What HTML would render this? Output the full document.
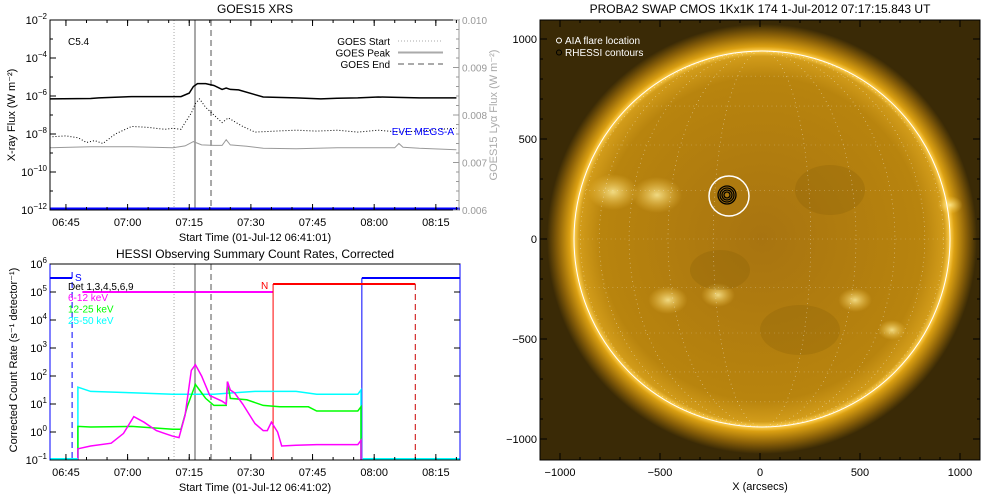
<!DOCTYPE html>
<html><head><meta charset="utf-8">
<style>
html,body{margin:0;padding:0;background:#fff;}
svg{display:block;font-family:"Liberation Sans",sans-serif;}
</style></head>
<body>
<svg id="c" width="1000" height="500" viewBox="0 0 1000 500">
<defs>
<radialGradient id="sunG" cx="762" cy="239" r="215" gradientUnits="userSpaceOnUse">
<stop offset="0" stop-color="#a87410"/>
<stop offset="0.75" stop-color="#b8840e"/>
<stop offset="0.85" stop-color="#d29c1a"/>
<stop offset="0.875" stop-color="#ffd050"/>
<stop offset="0.895" stop-color="#dba012"/>
<stop offset="0.95" stop-color="#8a6008"/>
<stop offset="1" stop-color="#3a2a06"/>
</radialGradient>
<radialGradient id="brt" cx="0.5" cy="0.5" r="0.5">
<stop offset="0" stop-color="#fff0a0" stop-opacity="0.8"/>
<stop offset="1" stop-color="#ffd050" stop-opacity="0"/>
</radialGradient>
<clipPath id="clipTop"><rect x="50" y="20" width="410" height="190"/></clipPath>
<clipPath id="clipBot"><rect x="50" y="264" width="410" height="196"/></clipPath>
<clipPath id="clipImg"><rect x="540" y="20" width="440" height="440"/></clipPath>
</defs>
<g id="topPanel"></g>
<g id="botPanel"></g>
<g id="imgPanel"></g>
</svg>
<script>
const goesLongT = [0,10,12,20,32,34,35,36,38,40,42,43,44,46,52,60,66,70,75,80,90,99];
const goesLongV = [-6.15,-6.13,-6.1,-6.03,-6.03,-5.85,-5.5,-5.35,-5.35,-5.45,-5.65,-5.58,-5.65,-5.68,-6.05,-6.1,-6.15,-6.12,-6.1,-6.05,-6.1,-6.1];
const goesShortT = [0,4,7,9,11,13,16,20,24,28,30,32,33,34.5,35.5,36.5,38,40,42,43.5,45,47,50,55,60,65,70,75,80,85,90,95,99];
const goesShortV = [-8.15,-8.1,-8.2,-8.45,-8.35,-8.5,-8.0,-7.6,-7.65,-7.75,-7.7,-7.75,-7.4,-6.9,-6.4,-6.15,-6.6,-7.0,-7.4,-7.15,-7.35,-7.6,-7.9,-7.85,-7.8,-7.85,-7.8,-7.9,-7.8,-7.9,-7.85,-7.75,-7.7];
const lyaT = [0,10,20,30,33,35,37,40,42,43,44,48,52,60,70,80,84,85,86,90,99];
const lyaV = [0.00731,0.00733,0.00733,0.00731,0.00735,0.00744,0.00737,0.00736,0.00736,0.00748,0.00737,0.00734,0.00730,0.00729,0.00731,0.00731,0.00731,0.00740,0.00732,0.00730,0.00727];
const xTicks = ['06:45','07:00','07:15','07:30','07:45','08:00','08:15'];
const xTickMin = [4,19,34,49,64,79,94];
const topYTicks = [-2,-4,-6,-8,-10,-12];
const lyaTicks = ['0.010','0.009','0.008','0.007','0.006'];
const goesEvents = [30.3,35.4,39.3];
const cyanT = [6.9,10,20,30,40,45,50,55,60,65,70,75,75.8];
const cyanV = [1.6,1.45,1.4,1.35,1.35,1.4,1.45,1.45,1.45,1.35,1.35,1.35,1.5];
const magT = [6.9,10,15,18,20.5,23,26,28,30,31.5,33,34.5,35.5,37,39,42,43,43.3,44,45,47,50,52,53,54,55.5,56.5,60,65,70,75,75.8];
const magV = [-0.6,-0.5,-0.4,-0.05,0.55,0.35,0.05,-0.05,-0.15,-0.2,0.6,2.2,2.4,2.0,1.3,1.1,1.0,1.8,1.5,1.4,1.0,0.3,0.05,0.05,0.35,0.0,-0.5,-0.47,-0.45,-0.45,-0.45,-0.3];
const grnT = [6.9,10,20,30,32,33.5,35.5,36.5,38,40,42,43,43.3,44,48,52,56,63,65,75,75.8];
const grnV = [0.2,0.18,0.2,0.1,0.1,0.9,1.7,1.5,1.2,0.95,0.95,0.95,1.8,1.2,1.15,0.95,0.9,0.9,0.75,0.75,0.9];
const botYTicks = [6,5,4,3,2,1,0,-1];
const attenT = [8,54.4,89];
const saaT = [5.5,76];

const NS='http://www.w3.org/2000/svg';
function el(parent,tag,attrs,text){const e=document.createElementNS(NS,tag);for(const k in attrs)e.setAttribute(k,attrs[k]);if(text!==undefined)e.textContent=text;parent.appendChild(e);return e;}
const xT = m => 49.5 + m*4.11;
const yTop = v => 20 + (-2 - v)*19;
const yLya = v => 210 - (v-0.006)/0.004*190;
const yBot = v => 264 + (6 - v)*28;
function pts(ts,vs,fy){return ts.map((t,i)=>xT(t).toFixed(1)+','+fy(vs[i]).toFixed(1)).join(' ');}
function expLabel(g,x,y,exp,anchor,fill){
  const t=el(g,'text',{x:x,y:y,'font-size':11,'text-anchor':anchor||'end',fill:fill||'#000'});
  t.appendChild(document.createTextNode('10'));
  const s=document.createElementNS(NS,'tspan');s.setAttribute('dy','-5');s.setAttribute('font-size','8');s.textContent=String(exp).replace('-','−');t.appendChild(s);
  return t;
}
const topG=document.getElementById('topPanel');
el(topG,'text',{x:255,y:13,'font-size':12,'text-anchor':'middle'},'GOES15 XRS');
const gTop=el(topG,'g',{'clip-path':'url(#clipTop)'});
const evStyles=[{'stroke-dasharray':'1,2','stroke-width':1},{'stroke-width':2},{'stroke-dasharray':'6,4','stroke-width':2}];
goesEvents.forEach((t,i)=>{const l=el(gTop,'line',Object.assign({x1:xT(t),x2:xT(t),y1:20,y2:210,stroke:'#a8a8a8'},evStyles[i]));

});
const lyaLine=el(gTop,'polyline',{points:pts(lyaT,lyaV,yLya),fill:'none',stroke:'#999','stroke-width':1});


const sLine=el(gTop,'polyline',{points:pts(goesShortT,goesShortV,yTop),fill:'none',stroke:'#000','stroke-width':1,'stroke-dasharray':'1,2'});


const lLine=el(gTop,'polyline',{points:pts(goesLongT,goesLongV,yTop),fill:'none',stroke:'#000','stroke-width':1.5});


el(gTop,'line',{x1:50,x2:460,y1:209,y2:209,stroke:'#0000ff','stroke-width':3});
el(topG,'rect',{x:50,y:20,width:409,height:190,fill:'none',stroke:'#000'});
el(topG,'line',{x1:459,x2:459,y1:20,y2:210,stroke:'#999'});
for(let v=-2;v>=-12;v--){const y=yTop(v);const len=(v%2===0)?6:3;el(topG,'line',{x1:50,x2:50+len,y1:y,y2:y,stroke:'#000'});}
topYTicks.forEach(v=>{const t=expLabel(topG,47,yTop(v)+4,v);
});
lyaTicks.forEach((s,i)=>{const y=20+i*47.5;el(topG,'line',{x1:453,x2:459,y1:y,y2:y,stroke:'#999'});
const t=el(topG,'text',{x:462,y:y+4,'font-size':10,fill:'#999'},s);
});
for(let i=0;i<20;i++){const y=20+i*9.5;el(topG,'line',{x1:456,x2:459,y1:y,y2:y,stroke:'#999'});}
xTickMin.forEach((m,i)=>{const x=xT(m);el(topG,'line',{x1:x,x2:x,y1:210,y2:204,stroke:'#000'});el(topG,'line',{x1:x,x2:x,y1:20,y2:26,stroke:'#000'});
const t=el(topG,'text',{x:x,y:226,'font-size':11,'text-anchor':'middle'},xTicks[i]);
});
for(let m=4;m<100;m+=5){const x=xT(m);el(topG,'line',{x1:x,x2:x,y1:210,y2:207,stroke:'#000'});el(topG,'line',{x1:x,x2:x,y1:20,y2:23,stroke:'#000'});}
el(topG,'text',{x:255,y:241,'font-size':11,'text-anchor':'middle'},'Start Time (01-Jul-12 06:41:01)');
el(topG,'text',{x:0,y:0,'font-size':11,'text-anchor':'middle',transform:'translate(15,115) rotate(-90)'},'X-ray Flux (W m⁻²)');
el(topG,'text',{x:0,y:0,'font-size':11,'text-anchor':'middle',fill:'#aaa',transform:'translate(497,115) rotate(-90)'},'GOES15 Lyα Flux (W m⁻²)');
el(topG,'text',{x:68,y:45,'font-size':10},'C5.4');
const legs=[['GOES Start','1,2',1],['GOES Peak','',2],['GOES End','6,4',2]];
legs.forEach((l,i)=>{const y=41+i*11.5;el(topG,'text',{x:390,y:y+4,'font-size':10,'text-anchor':'end'},l[0]);
el(topG,'line',{x1:398,x2:443,y1:y,y2:y,stroke:'#aaa','stroke-width':l[2],'stroke-dasharray':l[1]});});
el(topG,'text',{x:454,y:135,'font-size':10,'text-anchor':'end',fill:'#0000ff'},'EVE MEGS-A');

const botG=document.getElementById('botPanel');
el(botG,'text',{x:255,y:258,'font-size':12,'text-anchor':'middle'},'HESSI Observing Summary Count Rates, Corrected');
const gB=el(botG,'g',{'clip-path':'url(#clipBot)'});
goesEvents.forEach((t,i)=>{el(gB,'line',Object.assign({x1:xT(t),x2:xT(t),y1:264,y2:460,stroke:'#a8a8a8'},evStyles[i]));});
el(gB,'line',{x1:50,x2:xT(saaT[0]),y1:278,y2:278,stroke:'#0000ff','stroke-width':2});
el(gB,'line',{x1:xT(saaT[0]),x2:xT(saaT[0]),y1:272,y2:460,stroke:'#0000ff','stroke-dasharray':'6,4'});
el(gB,'line',{x1:xT(saaT[1]),x2:460,y1:278,y2:278,stroke:'#0000ff','stroke-width':2});
el(gB,'line',{x1:xT(saaT[1]),x2:xT(saaT[1]),y1:278,y2:460,stroke:'#0000ff'});
el(gB,'line',{x1:xT(attenT[0]),x2:xT(attenT[1]),y1:yBot(5),y2:yBot(5),stroke:'#ff00ff','stroke-width':2});
el(gB,'line',{x1:xT(attenT[1]),x2:xT(attenT[2]),y1:284,y2:284,stroke:'#ff0000','stroke-width':2});
el(gB,'line',{x1:xT(attenT[1]),x2:xT(attenT[1]),y1:284,y2:460,stroke:'#ff0000'});
el(gB,'line',{x1:xT(attenT[2]),x2:xT(attenT[2]),y1:284,y2:460,stroke:'#cc0000','stroke-dasharray':'6,4'});
function series(ts,vs,color,name){
  const p=pts(ts,vs,yBot);
  const full=xT(ts[0]).toFixed(1)+',462 '+p+' '+xT(ts[ts.length-1]).toFixed(1)+',462';
  const l=el(gB,'polyline',{points:full,fill:'none',stroke:color,'stroke-width':1.5});
  
  
}
series(cyanT,cyanV,'#00ffff','rate-25-50kev');
series(grnT,grnV,'#00ff00','rate-12-25kev');
series(magT,magV,'#ff00ff','rate-6-12kev');
el(gB,'line',{x1:xT(saaT[1])+1,x2:460,y1:459,y2:459,stroke:'#00ffff','stroke-width':2});
el(gB,'line',{x1:50,x2:xT(cyanT[0]),y1:459,y2:459,stroke:'#00ffff','stroke-width':2});
el(botG,'rect',{x:50,y:264,width:410,height:196,fill:'none',stroke:'#000'});
el(botG,'line',{x1:50,x2:50,y1:264,y2:460,stroke:'#0000ff'});
el(botG,'line',{x1:460,x2:460,y1:264,y2:460,stroke:'#0000ff'});
botYTicks.forEach(v=>{const y=yBot(v);el(botG,'line',{x1:50,x2:56,y1:y,y2:y,stroke:'#000'});el(botG,'line',{x1:454,x2:460,y1:y,y2:y,stroke:'#000'});
const t=expLabel(botG,47,y+4,v);
});
xTickMin.forEach((m,i)=>{const x=xT(m);el(botG,'line',{x1:x,x2:x,y1:460,y2:454,stroke:'#000'});
const t=el(botG,'text',{x:x,y:476,'font-size':11,'text-anchor':'middle'},xTicks[i]);
});
for(let m=4;m<100;m+=5){const x=xT(m);el(botG,'line',{x1:x,x2:x,y1:460,y2:457,stroke:'#000'});}
el(botG,'text',{x:255,y:491,'font-size':11,'text-anchor':'middle'},'Start Time (01-Jul-12 06:41:02)');
el(botG,'text',{x:0,y:0,'font-size':11,'text-anchor':'middle',transform:'translate(17,360) rotate(-90)'},'Corrected Count Rate (s⁻¹ detector⁻¹)');
el(botG,'text',{x:75,y:281,'font-size':10,fill:'#0000ff'},'S');
el(botG,'text',{x:261,y:289,'font-size':10,fill:'#ff0000'},'N');
el(botG,'text',{x:68,y:290,'font-size':10},'Det 1,3,4,5,6,9');
[['6-12 keV','#ff00ff'],['12-25 keV','#00ff00'],['25-50 keV','#00ffff']].forEach((l,i)=>{
const t=el(botG,'text',{x:68,y:301+i*11.5,'font-size':10,fill:l[1]},l[0]);
});

const imgG=document.getElementById('imgPanel');
el(imgG,'text',{x:760,y:13,'font-size':12,'text-anchor':'middle'},'PROBA2 SWAP CMOS 1Kx1K 174  1-Jul-2012 07:17:15.843 UT');
const gi=el(imgG,'g',{'clip-path':'url(#clipImg)'});
el(gi,'rect',{x:540,y:20,width:440,height:440,fill:'#3a2a06'});
el(gi,'circle',{cx:762,cy:239,r:215,fill:'url(#sunG)'});
[[613,192,18],[657,195,18],[668,300,14],[718,295,12],[855,300,12],[892,330,10],[950,205,9]].forEach(a=>el(gi,'ellipse',{cx:a[0],cy:a[1],rx:a[2]*1.4,ry:a[2],fill:'url(#brt)'}));
[[720,270,30,20],[830,190,35,25],[800,330,40,25]].forEach(a=>el(gi,'ellipse',{cx:a[0],cy:a[1],rx:a[2],ry:a[3],fill:'#7a5406',opacity:0.2}));
for(let lat=-60;lat<=60;lat+=15){const y=239-188*Math.sin(lat*Math.PI/180);const hw=188*Math.cos(lat*Math.PI/180);
el(gi,'line',{x1:762-hw,x2:762+hw,y1:y,y2:y,stroke:'#fff','stroke-width':0.6,'stroke-dasharray':'0.6,4',opacity:0.6});}
for(let lon=-75;lon<=75;lon+=15){const rx=Math.abs(188*Math.sin(lon*Math.PI/180));
el(gi,'ellipse',{cx:762,cy:239,rx:rx,ry:188,fill:'none',stroke:'#fff','stroke-width':0.6,'stroke-dasharray':'0.6,4',opacity:0.5});}
el(gi,'circle',{cx:762,cy:239,r:188,fill:'none',stroke:'#fff','stroke-width':1});
el(gi,'circle',{cx:729,cy:196,r:20,fill:'none',stroke:'#fff','stroke-width':1.5});
[9,7,5,3].forEach(r=>el(gi,'circle',{cx:727,cy:195,r:r,fill:'none',stroke:'#000','stroke-width':1.3}));
el(imgG,'rect',{x:540,y:20,width:440,height:440,fill:'none',stroke:'#000'});
const imTicks=[-1000,-500,0,500,1000];
const ix=v=>760+v*0.2, iy=v=>239-v*0.2;
for(let v=-1000;v<=1000;v+=100){el(imgG,'line',{x1:ix(v),x2:ix(v),y1:460,y2:v%500?457:453,stroke:'#000'});el(imgG,'line',{x1:ix(v),x2:ix(v),y1:20,y2:v%500?23:27,stroke:'#000'});
el(imgG,'line',{x1:540,x2:v%500?543:547,y1:iy(v),y2:iy(v),stroke:'#000'});el(imgG,'line',{x1:980,x2:v%500?977:973,y1:iy(v),y2:iy(v),stroke:'#000'});}
imTicks.forEach(v=>{const s=String(v).replace('-','−');
el(imgG,'text',{x:ix(v),y:476,'font-size':11,'text-anchor':'middle'},s);
el(imgG,'text',{x:537,y:iy(v)+4,'font-size':11,'text-anchor':'end'},s);});
el(imgG,'text',{x:760,y:490,'font-size':11,'text-anchor':'middle'},'X (arcsecs)');
el(imgG,'circle',{cx:559,cy:40.5,r:2.5,fill:'none',stroke:'#fff'});
el(imgG,'text',{x:565,y:44,'font-size':10,fill:'#fff'},'AIA flare location');
el(imgG,'circle',{cx:559,cy:52.5,r:2.5,fill:'none',stroke:'#000'});
el(imgG,'text',{x:565,y:56,'font-size':10,fill:'#fff'},'RHESSI contours');
</script>
</body></html>
